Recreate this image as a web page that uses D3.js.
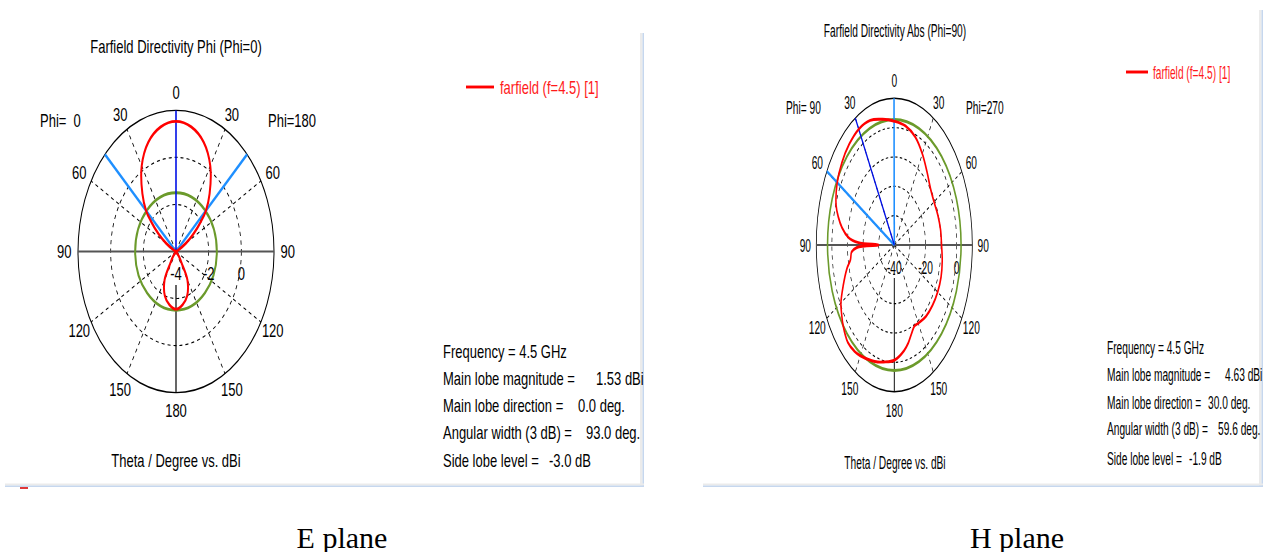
<!DOCTYPE html>
<html lang="en">
<head>
<meta charset="UTF-8">
<title>Farfield Directivity - E plane / H plane</title>
<script src="https://d3js.org/d3.v7.min.js"></script>
<style>
  body { margin: 0; background: #fff; }
  svg { display: block; }
  text { font-family: "Liberation Sans", Arial, sans-serif; font-size: 13px; fill: #000; white-space: pre; }
  .caption { font-family: "Liberation Serif", "Times New Roman", serif; font-size: 30px; }
</style>
</head>
<body>
<svg width="1265" height="552"></svg>
<script>
// ---- data ----
// angle labels round the polar plots (theta, degrees)
const angleTicks = [0, 30, 60, 90, 120, 150, 180];

// E plane (Phi=0 / Phi=180), directivity in dBi, pattern is symmetric
const eTheta = [0, 10, 20, 30, 40, 46.5, 50, 55, 60, 65, 70, 80, 90, 100, 110, 120, 130, 140, 145, 150, 160, 170, 180];
const eDir   = [1.53, 1.38, 0.95, 0.2, -0.8, -1.47, -2.0, -2.7, -3.3, -3.8, -4.5, -6, -8, -6.5, -5.5, -4.8, -4.3, -3.7, -3.4, -2.6, -2.0, -1.7, -1.55];
const eRadialTicks = [-4, -2, 0];
const eRings = [-2, 0];
const eThreeDb = -1.5;           // green circle
const eMainDir = 0;              // plot angle, negative = left half
const eBeamEdges = [-46.5, 46.5];

// H plane (Phi=90 on the left, Phi=270 on the right)
const hThetaPhi90 = [0, 10, 20, 30, 40, 50, 60, 70, 75, 80, 85, 88, 90, 92, 95, 100, 105, 113, 120, 125, 130, 138, 145, 150, 160, 165, 170, 180];
const hDirPhi90   = [2.2, 3.5, 5.2, 5.6, 4.9, 3.8, 2.3, -0.3, -2.8, -6.0, -10.5, -17, -30, -16, -12.5, -11.5, -8.5, -4.4, -0.5, 1.2, 2.8, 4.6, 4.3, 3.6, 2.0, 1.3, 0.5, -0.7];
const hThetaPhi270 = [0, 10, 20, 30, 40, 50, 60, 70, 80, 90, 100, 110, 120, 130, 140, 150, 155, 160, 165, 170, 180];
const hDirPhi270   = [2.2, 1.2, -0.8, -4.1, -7.4, -9.8, -10.6, -10.3, -9.9, -9.7, -8.8, -8.1, -7.9, -8.0, -8.3, -9.2, -9.5, -7.8, -5.4, -3.5, -0.7];
const hRadialTicks = [-40, -20, 0];
const hRings = [-30, -20, -10, 0];
const hThreeDb = 2.8;
const hMainDir = -30;
const hBeamEdges = [-0.2, -59.8];

// text blocks
const infoLabels = ["Frequency = 4.5 GHz", "Main lobe magnitude =", "Main lobe direction =", "Angular width (3 dB) =", "Side lobe level ="];
const eInfoValues = ["", "1.53 dBi", "0.0 deg.", "93.0 deg.", "-3.0 dB"];
const hInfoValues = ["", "4.63 dBi", "30.0 deg.", "59.6 deg.", "-1.9 dB"];
const legendLabel = "farfield (f=4.5) [1]";

const svg = d3.select("svg");

// frames of the two screenshots
function frame(x0, x1, yTop) {
    svg.append("rect").attr("x", x1 - 4).attr("y", yTop).attr("width", 2.5).attr("height", 487 - yTop).attr("fill", "#ebebeb");
    svg.append("rect").attr("x", x1 - 1.5).attr("y", yTop).attr("width", 1.5).attr("height", 487 - yTop).attr("fill", "#c6d7ee");
    svg.append("rect").attr("x", x0).attr("y", 483.5).attr("width", x1 - x0).attr("height", 2).attr("fill", "#ebebeb");
    svg.append("rect").attr("x", x0).attr("y", 485.5).attr("width", x1 - x0).attr("height", 1.5).attr("fill", "#c6d7ee");
}
frame(5, 644, 33);
frame(703, 1263, 10);
svg.append("rect").attr("x", 20).attr("y", 487).attr("width", 8).attr("height", 2).attr("fill", "#e03838");

function drawPanel(c) {
    const g = svg.append("g")
        .attr("transform", `translate(${c.cx},${c.cy}) scale(${c.sx},${c.sy})`);
    // screen position -> panel coordinates
    const nat = (X, Y) => [(X - c.cx) / c.sx, (Y - c.cy) / c.sy];
    const r = d3.scaleLinear().domain(c.domain).range([0, c.R]).clamp(true);
    const rad = d => d * Math.PI / 180;
    const pt = (a, v) => [r(v) * Math.sin(rad(a)), -r(v) * Math.cos(rad(a))];
    const top = c.domain[1];

    // dashed rings
    g.selectAll(".ring").data(c.rings).join("circle")
        .attr("r", d => r(d)).attr("fill", "none")
        .attr("stroke", "#000").attr("stroke-width", 0.8).attr("stroke-dasharray", "3,3");
    // dashed spokes
    const spokes = [30, 60, 120, 150, -30, -60, -120, -150];
    g.selectAll(".spoke").data(spokes).join("line")
        .attr("x1", 0).attr("y1", 0)
        .attr("x2", d => pt(d, top)[0]).attr("y2", d => pt(d, top)[1])
        .attr("stroke", "#000").attr("stroke-width", 0.8).attr("stroke-dasharray", "3,3");
    // outer circle
    g.append("circle").attr("r", r(top)).attr("fill", "none").attr("stroke", "#000").attr("stroke-width", 1);
    // axes
    g.append("line").attr("x1", -r(top)).attr("x2", r(top)).attr("y1", 0).attr("y2", 0)
        .attr("stroke", "#555").attr("stroke-width", 1.4);
    g.append("line").attr("x1", 0).attr("x2", 0).attr("y1", nat(0, c.lowerAxisY)[1]).attr("y2", r(top))
        .attr("stroke", "#000").attr("stroke-width", 1.2);

    // 3 dB circle
    g.append("circle").attr("r", r(c.threeDb)).attr("fill", "none")
        .attr("stroke", "#6b9a2b").attr("stroke-width", 2);
    // beam width and main lobe direction markers
    g.selectAll(".edge").data(c.edges).join("line")
        .attr("x1", 0).attr("y1", 0)
        .attr("x2", d => pt(d, top)[0]).attr("y2", d => pt(d, top)[1])
        .attr("stroke", "#1e8fff").attr("stroke-width", 2);
    g.append("line").attr("x1", 0).attr("y1", 0)
        .attr("x2", pt(c.mainDir, top)[0]).attr("y2", pt(c.mainDir, top)[1])
        .attr("stroke", "#0010e6").attr("stroke-width", 1.6);

    // pattern: left half (theta -> -theta), then right half back up
    const pts = c.left.map(d => pt(-d[0], d[1]));
    const right = c.right.filter(d => d[0] > 0 && d[0] < 180).reverse();
    right.forEach(d => pts.push(pt(d[0], d[1])));
    g.append("path").attr("d", d3.line().curve(d3.curveCatmullRomClosed.alpha(0.5))(pts))
        .attr("fill", "none").attr("stroke", "#ff0000").attr("stroke-width", 2);

    // angle labels
    const angLabels = angleTicks.concat(angleTicks.filter(a => a > 0 && a < 180).map(a => -a));
    g.selectAll(".alab").data(angLabels).join("text")
        .attr("x", d => 1.14 * c.R * Math.sin(rad(d)))
        .attr("y", d => -1.125 * c.R * Math.cos(rad(d)))
        .attr("dy", "0.35em").attr("text-anchor", "middle")
        .text(d => Math.abs(d));
    // radial labels
    g.selectAll(".rlab").data(c.radialTicks).join("text")
        .attr("x", d => r(d)).attr("y", nat(0, c.radialLabelY)[1])
        .attr("dy", "0.35em").attr("text-anchor", "middle")
        .text(d => d);

    const txt = (X, Y, s, anchor, color) => {
        const p = nat(X, Y);
        g.append("text").attr("x", p[0]).attr("y", p[1]).attr("dy", "0.35em")
            .attr("text-anchor", anchor || "start").style("fill", color || "#000").text(s);
    };
    txt(c.titleX, c.titleY, c.title, "middle");
    txt(c.phiLeftX, c.phiY, c.phiLeft);
    txt(c.phiRightX, c.phiY, c.phiRight);
    txt(c.footerX, c.footerY, "Theta / Degree vs. dBi", "middle");

    // legend
    const l0 = nat(c.legend[0], c.legend[2]), l1 = nat(c.legend[1], c.legend[2]);
    g.append("line").attr("x1", l0[0]).attr("x2", l1[0]).attr("y1", l0[1]).attr("y2", l0[1])
        .attr("stroke", "#ff0000").attr("stroke-width", 2);
    txt(c.legend[3], c.legend[2], legendLabel, "start", "#ff1a1a");

    // info block
    infoLabels.forEach((s, i) => {
        txt(c.infoX, c.infoY[i], s);
        if (c.info[i]) txt(c.infoValueX[i], c.infoY[i], c.info[i]);
    });
}

drawPanel({
    cx: 176, cy: 251.5, R: 98, sx: 1, sy: 1.44,
    domain: [-4, 2], rings: eRings, radialTicks: eRadialTicks, radialLabelY: 273, lowerAxisY: 285,
    threeDb: eThreeDb, mainDir: eMainDir, edges: eBeamEdges,
    left: eTheta.map((t, i) => [t, eDir[i]]), right: eTheta.map((t, i) => [t, eDir[i]]),
    title: "Farfield Directivity Phi (Phi=0)", titleX: 176, titleY: 46,
    phiLeft: "Phi=  0", phiRight: "Phi=180", phiLeftX: 40, phiRightX: 268, phiY: 120,
    footerX: 176, footerY: 460,
    legend: [466, 494, 87, 500],
    infoX: 443, infoY: [351, 378, 405.5, 432.5, 460], info: eInfoValues,
    infoValueX: [0, 596, 578, 586, 549]
});

drawPanel({
    cx: 894.3, cy: 245, R: 99.5, sx: 0.784, sy: 1.474,
    domain: [-40, 10], rings: hRings, radialTicks: hRadialTicks, radialLabelY: 267, lowerAxisY: 278,
    threeDb: hThreeDb, mainDir: hMainDir, edges: hBeamEdges,
    left: hThetaPhi90.map((t, i) => [t, hDirPhi90[i]]), right: hThetaPhi270.map((t, i) => [t, hDirPhi270[i]]),
    title: "Farfield Directivity Abs (Phi=90)", titleX: 895, titleY: 30,
    phiLeft: "Phi= 90", phiRight: "Phi=270", phiLeftX: 786, phiRightX: 966, phiY: 107,
    footerX: 895, footerY: 462,
    legend: [1126, 1148, 72, 1153],
    infoX: 1107, infoY: [347, 374, 402, 428.5, 458.5], info: hInfoValues,
    infoValueX: [0, 1225, 1208, 1218, 1189]
});

// captions below the screenshots
svg.append("text").attr("class", "caption").attr("x", 342).attr("y", 537).attr("dy", "0.35em")
    .attr("text-anchor", "middle").text("E plane");
svg.append("text").attr("class", "caption").attr("x", 1017).attr("y", 537).attr("dy", "0.35em")
    .attr("text-anchor", "middle").text("H plane");
</script>
</body>
</html>
